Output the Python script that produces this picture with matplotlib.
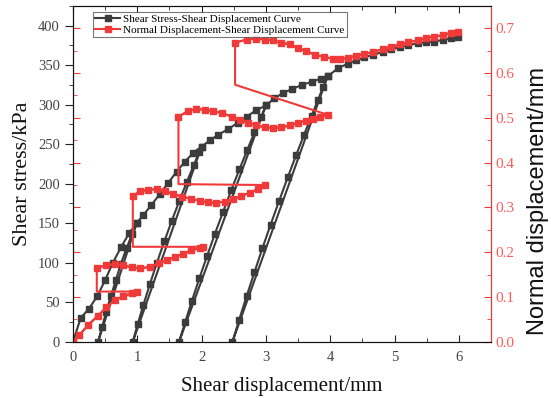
import matplotlib
matplotlib.use("Agg")
import matplotlib.pyplot as plt
from matplotlib.ticker import MultipleLocator

# shear stress - shear displacement (loading / unloading / reloading cycles)
shear_x = [0, 0.12, 0.25, 0.38, 0.50, 0.62, 0.75, 0.87, 0.99,
           0.39,
           0.451, 0.517, 0.59, 0.667, 0.741, 0.832, 0.917, 0.99,
           1.09, 1.22, 1.35, 1.48, 1.61, 1.74, 1.87, 2.0,
           0.93,
           1.005, 1.096, 1.196, 1.305, 1.42, 1.536, 1.653, 1.769, 1.88, 1.963, 2.0,
           2.13, 2.26, 2.41, 2.56, 2.70, 2.85, 3.0,
           1.65,
           1.745, 1.85, 1.964, 2.083, 2.204, 2.332, 2.462, 2.587, 2.711, 2.822, 2.921, 3.0,
           3.13, 3.27, 3.41, 3.56, 3.71, 3.85, 3.96,
           2.48,
           2.585, 2.701, 2.822, 2.944, 3.072, 3.204, 3.339, 3.469, 3.593, 3.71, 3.809, 3.888, 3.96,
           4.12, 4.27, 4.40, 4.53, 4.66, 4.82, 4.95, 5.08, 5.21, 5.36, 5.49, 5.62, 5.75, 5.88, 5.99]
shear_y = [0, 30, 42, 58, 78, 100, 120, 137, 150,
           0,
           18, 38, 58, 78, 98, 118, 136, 150,
           160, 173, 187, 201, 215, 228, 239, 247,
           0,
           22, 47, 73, 100, 127, 153, 178, 202, 224, 240, 247,
           255, 262, 269, 277, 285, 293, 299,
           0,
           25, 52, 80, 108, 136, 164, 192, 218, 243, 265, 284, 299,
           308, 315, 320, 325, 329, 333, 336,
           0,
           28, 58, 88, 118, 148, 178, 208, 236, 262, 286, 306, 322, 336,
           346, 352, 356, 360, 363, 367, 370, 373, 375, 378, 379, 380, 382, 384, 386]

# normal displacement, one list per loading stage
norm_x1 = [0, 0.10, 0.24, 0.39, 0.52, 0.65, 0.78, 0.91, 0.99]
norm_y1 = [0, 0.015, 0.038, 0.058, 0.077, 0.093, 0.101, 0.108, 0.112]
norm_x2 = [0.37, 0.52, 0.65, 0.78, 0.91, 1.04, 1.2, 1.33, 1.46, 1.58, 1.71, 1.84, 1.97, 2.02]
norm_y2 = [0.165, 0.171, 0.173, 0.171, 0.166, 0.164, 0.167, 0.175, 0.183, 0.189, 0.196, 0.204, 0.209, 0.212]
norm_x3 = [0.93, 1.04, 1.17, 1.30, 1.43, 1.56, 1.69, 1.84, 1.97, 2.10, 2.23, 2.36, 2.49, 2.62, 2.75, 2.88, 2.98]
norm_y3 = [0.325, 0.336, 0.339, 0.341, 0.336, 0.330, 0.324, 0.319, 0.315, 0.311, 0.310, 0.313, 0.319, 0.326,
           0.333, 0.341, 0.350]
norm_x4 = [1.64, 1.79, 1.92, 2.05, 2.18, 2.31, 2.47, 2.60, 2.72, 2.85, 2.98, 3.11, 3.24, 3.37, 3.50, 3.63,
           3.73, 3.84, 3.96]
norm_y4 = [0.503, 0.515, 0.52, 0.518, 0.515, 0.511, 0.503, 0.496, 0.489, 0.483, 0.479, 0.477, 0.479, 0.483,
           0.489, 0.494, 0.497, 0.502, 0.507]
norm_x5 = [2.52, 2.70, 2.85, 2.98, 3.11, 3.24, 3.37, 3.50, 3.63, 3.76, 3.91, 4.04, 4.15, 4.27, 4.40, 4.53,
           4.66, 4.82, 4.95, 5.08, 5.21, 5.36, 5.49, 5.62, 5.75, 5.88, 5.98]
norm_y5 = [0.668, 0.675, 0.677, 0.675, 0.673, 0.668, 0.664, 0.656, 0.649, 0.641, 0.636, 0.632, 0.631, 0.634,
           0.639, 0.643, 0.647, 0.654, 0.659, 0.664, 0.669, 0.673, 0.679, 0.681, 0.685, 0.690, 0.692]
# unloading stages (no markers): corner points between stages
corner_x = [0.37, 0.93, 1.64, 2.52]
corner_y = [0.112, 0.212, 0.352, 0.574]

black = '#3c3c3c'
red = '#f03a3a'
serif = 'Liberation Serif'

plt.rcParams['font.family'] = serif

fig = plt.figure(figsize=(5.51, 3.98), dpi=100)
ax = fig.add_axes([0.1325, 0.1415, 0.7586, 0.8435])
ax2 = ax.twinx()

l1, = ax.plot(shear_x, shear_y, color=black, lw=1.5, marker='s', ms=4,
              label='Shear Stress-Shear Displacement Curve')

segs_x = [norm_x1, norm_x2, norm_x3, norm_x4, norm_x5]
segs_y = [norm_y1, norm_y2, norm_y3, norm_y4, norm_y5]
path_x, path_y = [], []
for i in range(len(segs_x)):
    path_x += segs_x[i]
    path_y += segs_y[i]
    if i < len(corner_x):
        path_x.append(corner_x[i])
        path_y.append(corner_y[i])
ax2.plot(path_x, path_y, color=red, lw=1.5)
for i in range(len(segs_x)):
    l2, = ax2.plot(segs_x[i], segs_y[i], color=red, lw=1.5, marker='s', ms=4.5,
                   label='Normal Displacement-Shear Displacement Curve')

ax.set_xlim(0, 6.5)
ax.set_ylim(0, 425)
ax2.set_ylim(0, 0.75)

ax.xaxis.set_major_locator(MultipleLocator(1))
ax.xaxis.set_minor_locator(MultipleLocator(0.5))
ax.yaxis.set_major_locator(MultipleLocator(50))
ax.yaxis.set_minor_locator(MultipleLocator(25))
ax2.yaxis.set_major_locator(MultipleLocator(0.1))
ax2.yaxis.set_minor_locator(MultipleLocator(0.05))

ax.tick_params(axis='x', which='both', direction='in', top=True, colors='#222',
               labelcolor='#444', labelsize=10.5, pad=7)
ax.tick_params(axis='x', which='major', length=5)
ax.tick_params(axis='x', which='minor', length=3)
ax.tick_params(axis='y', which='both', direction='out', colors='#222',
               labelcolor='#444', labelsize=10.5)
ax.tick_params(axis='y', which='major', length=6)
ax.tick_params(axis='y', which='minor', length=3)

ax2.tick_params(axis='y', which='both', direction='in', left=True, colors=red,
                labelcolor='#ff5a5a', labelsize=11)
ax2.tick_params(axis='y', which='major', length=5)
ax2.tick_params(axis='y', which='minor', length=3)
for t in ax2.yaxis.get_major_ticks() + ax2.yaxis.get_minor_ticks():
    t.tick1line.set_color('#333')

ax2.spines['right'].set_color(red)
for s in ['left', 'top', 'bottom']:
    ax2.spines[s].set_color('#111')
    ax.spines[s].set_color('#111')

ax.set_xlabel('Shear displacement/mm', fontsize=15, color='#111', labelpad=9)
ax.set_ylabel('Shear stress/kPa', fontsize=16, color='#111')
ax2.set_ylabel('Normal displacement/mm', fontsize=17, color='#111', family='Liberation Sans')
ax2.yaxis.set_label_coords(1.086, 0.42)

leg = ax2.legend([l1, l2], [l1.get_label(), l2.get_label()], loc='upper left',
                 bbox_to_anchor=(0.048, 0.982), fontsize=8, frameon=True, fancybox=False,
                 borderpad=0.2, labelspacing=0.1, handlelength=2.2, handletextpad=0.3,
                 borderaxespad=0)
leg.get_frame().set_edgecolor('#555')
leg.get_frame().set_linewidth(0.8)

fig.savefig('out.png', dpi=100)
